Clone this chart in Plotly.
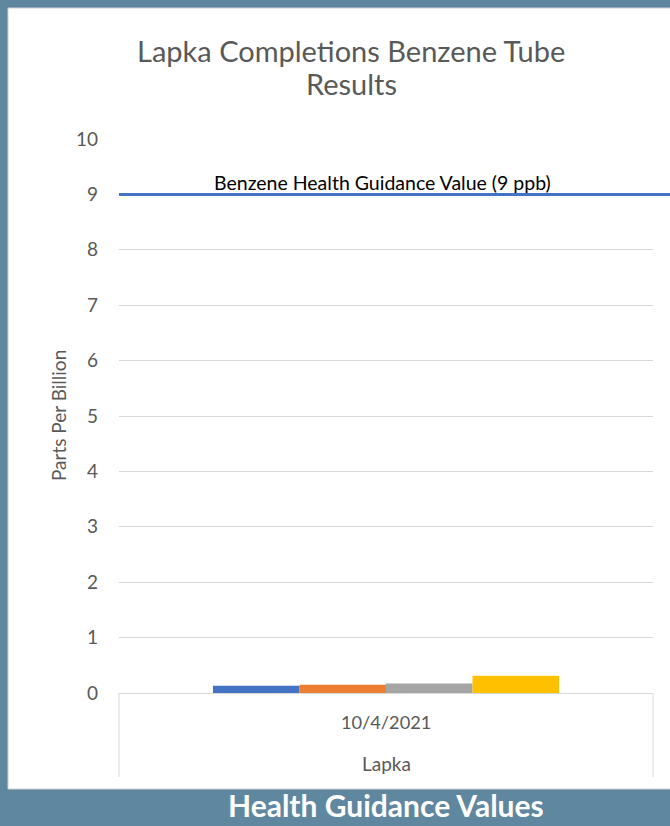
import plotly.graph_objects as go

# ---- data ----
sites = ["Lapka"]
dates = ["10/4/2021"]
series_names = ["Tube 1", "Tube 2", "Tube 3", "Tube 4"]
series_values = [[0.13], [0.15], [0.17], [0.31]]
series_colors = ["#4472c4", "#ed7d31", "#a5a5a5", "#ffc000"]
guidance_value = 9
guidance_label = "Benzene Health Guidance Value (9 ppb)"
y_ticks = [0, 1, 2, 3, 4, 5, 6, 7, 8, 9, 10]
title_lines = ["Lapka Completions Benzene Tube", "Results"]
y_title = "Parts Per Billion"
footer_text = "Health Guidance Values"

FONT = "Lato"
GRAY = "#595959"
BLUE_BG = "#5f87a0"

W, H = 670, 826
L, R, T, B = 119, 17, 139, 133
PW = W - L - R
PH = H - T - B


def px_x(px):
    return (px - L) / PW


def px_y(py):
    return (H - B - py) / PH


fig = go.Figure()
for name, vals, col in zip(series_names, series_values, series_colors):
    fig.add_trace(go.Bar(x=dates, y=vals, name=name, marker_color=col,
                         marker_line_width=0, showlegend=False))

shapes = [
    # white panel
    dict(type="rect", xref="paper", yref="paper", layer="below",
         x0=px_x(8), x1=px_x(700), y0=px_y(789), y1=px_y(8),
         fillcolor="white", line=dict(color="#d0d0d0", width=1)),
    # category divider lines
    dict(type="line", xref="paper", yref="paper", x0=0, x1=0,
         y0=0, y1=px_y(777), line=dict(color="#d9d9d9", width=1)),
    dict(type="line", xref="paper", yref="paper", x0=1, x1=1,
         y0=0, y1=px_y(777), line=dict(color="#d9d9d9", width=1)),
    # guidance line
    dict(type="line", xref="paper", yref="y", x0=0, x1=px_x(700),
         y0=guidance_value, y1=guidance_value,
         line=dict(color="#4472c4", width=3)),
]

annotations = [
    dict(text=title_lines[0], xref="paper", yref="paper", x=px_x(351), y=px_y(51),
         xanchor="center", yanchor="middle", showarrow=False,
         font=dict(family=FONT, size=29, color=GRAY)),
    dict(text=title_lines[1], xref="paper", yref="paper", x=px_x(351), y=px_y(84),
         xanchor="center", yanchor="middle", showarrow=False,
         font=dict(family=FONT, size=29, color=GRAY)),
    dict(text=guidance_label, xref="paper", yref="paper", x=px_x(382), y=px_y(182),
         xanchor="center", yanchor="middle", showarrow=False,
         font=dict(family=FONT, size=19.5, color="black")),
    dict(text=y_title, xref="paper", yref="paper", x=px_x(58), y=0.5,
         xanchor="center", yanchor="middle", showarrow=False, textangle=-90,
         font=dict(family=FONT, size=19, color=GRAY)),
    dict(text=dates[0], xref="x", yref="paper", x=dates[0], y=px_y(722),
         xanchor="center", yanchor="middle", showarrow=False,
         font=dict(family=FONT, size=18.2, color=GRAY)),
    dict(text=sites[0], xref="x", yref="paper", x=dates[0], y=px_y(763),
         xanchor="center", yanchor="middle", showarrow=False,
         font=dict(family=FONT, size=19, color=GRAY)),
    dict(text="<b>" + footer_text + "</b>", xref="paper", yref="paper",
         x=px_x(386), y=px_y(805), xanchor="center", yanchor="middle",
         showarrow=False, font=dict(family=FONT, size=30, color="white")),
]

fig.update_layout(
    width=W, height=H,
    margin=dict(l=L, r=R, t=T, b=B, pad=0),
    paper_bgcolor=BLUE_BG,
    plot_bgcolor="rgba(0,0,0,0)",
    barmode="group", bargap=0.352, bargroupgap=0,
    shapes=shapes, annotations=annotations,
    xaxis=dict(showticklabels=False, showgrid=False, zeroline=False,
               showline=True, linecolor="#d9d9d9", linewidth=1, ticks="",
               fixedrange=True),
    yaxis=dict(range=[0, 10], tickvals=y_ticks, showgrid=True,
               gridcolor="#d9d9d9", gridwidth=1, zeroline=False,
               showline=False, ticks="", ticklabelstandoff=20,
               tickfont=dict(family=FONT, size=19, color=GRAY),
               fixedrange=True),
    font=dict(family=FONT),
)

fig.write_html(
    "out.html",
    config={"displayModeBar": False},
    post_script="document.body.style.margin='0px';document.body.style.background='" + BLUE_BG + "';",
)
